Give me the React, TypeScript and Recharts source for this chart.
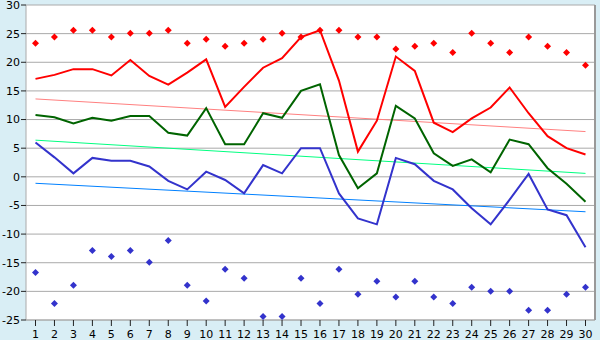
import { LineChart, Line, XAxis, YAxis, CartesianGrid } from "recharts";

const DAYS = [
  "1", "2", "3", "4", "5", "6", "7", "8", "9", "10",
  "11", "12", "13", "14", "15", "16", "17", "18", "19", "20",
  "21", "22", "23", "24", "25", "26", "27", "28", "29", "30",
];

// upper red markers
const HIGH_DOTS = [
  23.3, 24.4, 25.6, 25.6, 24.4, 25.05, 25.05, 25.6, 23.3, 24.0,
  22.8, 23.3, 24.0, 25.05, 24.4, 25.6, 25.6, 24.4, 24.4, 22.3,
  22.8, 23.3, 21.7, 25.05, 23.3, 21.7, 24.4, 22.8, 21.7, 19.5,
];
const HIGH_LINE = [
  17.1, 17.8, 18.8, 18.8, 17.7, 20.4, 17.6, 16.1, 18.2, 20.5,
  12.2, 15.7, 19.05, 20.7, 24.4, 25.6, 16.8, 4.4, 9.8, 21.0,
  18.5, 9.45, 7.8, 10.2, 12.1, 15.6, 11.1, 7.1, 5.0, 3.9,
];
const MID_LINE = [
  10.8, 10.4, 9.3, 10.3, 9.8, 10.6, 10.6, 7.7, 7.2, 12.0,
  5.7, 5.7, 11.1, 10.3, 15.0, 16.15, 3.8, -2.0, 0.6, 12.4,
  10.2, 4.1, 1.9, 3.05, 0.8, 6.5, 5.7, 1.5, -1.2, -4.35,
];
const LOW_LINE = [
  6.0, 3.4, 0.6, 3.3, 2.8, 2.8, 1.8, -0.7, -2.2, 0.9,
  -0.55, -2.9, 2.05, 0.6, 5.0, 5.0, -2.9, -7.25, -8.3, 3.3,
  2.2, -0.7, -2.2, -5.5, -8.3, -4.0, 0.5, -5.7, -6.7, -12.3,
];
// lower blue markers
const LOW_DOTS = [
  -16.7, -22.1, -18.95, -12.85, -13.9, -12.85, -14.9, -11.1, -18.95, -21.7,
  -16.15, -17.7, -24.4, -24.4, -17.7, -22.1, -16.15, -20.5, -18.25, -21.0,
  -18.25, -21.0, -22.1, -19.3, -20.0, -20.0, -23.3, -23.3, -20.5, -19.3,
];
// trend lines: value at first and last day
const HIGH_TREND = [13.6, 7.9];
const MID_TREND = [6.4, 0.6];
const LOW_TREND = [-1.13, -6.1];

const Y_TICKS = [-25, -20, -15, -10, -5, 0, 5, 10, 15, 20, 25, 30];

const last = DAYS.length - 1;
const ends = (pair: number[], i: number) =>
  i === 0 ? pair[0] : i === last ? pair[1] : null;

const data = DAYS.map((day, i) => ({
  day,
  highDots: HIGH_DOTS[i],
  high: HIGH_LINE[i],
  mid: MID_LINE[i],
  low: LOW_LINE[i],
  lowDots: LOW_DOTS[i],
  highTrend: ends(HIGH_TREND, i),
  midTrend: ends(MID_TREND, i),
  lowTrend: ends(LOW_TREND, i),
}));

const FONT = "DejaVu Sans, Verdana, sans-serif";
const tickStyle = { fill: "#000", fontSize: 11, fontFamily: FONT };

function Diamond(props: { cx?: number; cy?: number; fill: string }) {
  const { cx, cy, fill } = props;
  if (cx == null || cy == null) return null;
  const r = 3.5;
  return (
    <path
      d={`M${cx},${cy - r}L${cx + r},${cy}L${cx},${cy + r}L${cx - r},${cy}Z`}
      fill={fill}
    />
  );
}

export default function App() {
  return (
    <div style={{ width: 600, height: 340, background: "#d9eef5" }}>
      <style>{`body{margin:0}`}</style>
      <LineChart
        width={600}
        height={340}
        data={data}
        margin={{ top: 5, right: 0, bottom: 0, left: 0 }}
      >
        <CartesianGrid vertical={false} stroke="#aaaaaa" fill="#ffffff" />
        <XAxis
          dataKey="day"
          height={20}
          padding={{ left: 9.5, right: 9.5 }}
          tick={tickStyle}
          tickSize={6}
          tickMargin={4}
          interval={0}
          axisLine={{ stroke: "#aaaaaa" }}
          tickLine={{ stroke: "#222" }}
        />
        <YAxis
          width={26}
          domain={[-25, 30]}
          ticks={Y_TICKS}
          interval={0}
          tick={tickStyle}
          tickSize={5}
          tickMargin={1}
          axisLine={{ stroke: "#aaaaaa" }}
          tickLine={{ stroke: "#222" }}
        />
        <YAxis
          yAxisId="right"
          orientation="right"
          width={5}
          tick={false}
          tickLine={false}
          axisLine={{ stroke: "#999999", strokeWidth: 2 }}
        />
        <Line dataKey="highTrend" stroke="#ff8080" strokeWidth={1} dot={false} connectNulls isAnimationActive={false} />
        <Line dataKey="midTrend" stroke="#00ff80" strokeWidth={1} dot={false} connectNulls isAnimationActive={false} />
        <Line dataKey="lowTrend" stroke="#0080ff" strokeWidth={1} dot={false} connectNulls isAnimationActive={false} />
        <Line dataKey="high" stroke="#ff0000" strokeWidth={2} dot={false} activeDot={false} isAnimationActive={false} />
        <Line dataKey="mid" stroke="#006400" strokeWidth={2} dot={false} activeDot={false} isAnimationActive={false} />
        <Line dataKey="low" stroke="#3333cc" strokeWidth={2} dot={false} activeDot={false} isAnimationActive={false} />
        <Line
          dataKey="highDots"
          stroke="none"
          activeDot={false}
          isAnimationActive={false}
          dot={(p: any) => <Diamond key={`h${p.index}`} cx={p.cx} cy={p.cy} fill="#ff0000" />}
        />
        <Line
          dataKey="lowDots"
          stroke="none"
          activeDot={false}
          isAnimationActive={false}
          dot={(p: any) => <Diamond key={`l${p.index}`} cx={p.cx} cy={p.cy} fill="#3333cc" />}
        />
      </LineChart>
    </div>
  );
}
